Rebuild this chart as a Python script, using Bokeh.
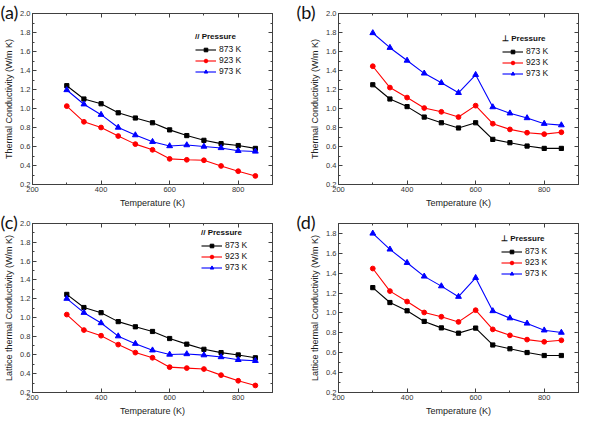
from bokeh.plotting import figure
from bokeh.layouts import gridplot
from bokeh.models import (Range1d, LinearAxis, SingleIntervalTicker, Legend, LegendItem,
                          CustomJSTickFormatter, NumeralTickFormatter)
from bokeh.embed import file_html
from bokeh.resources import INLINE

# ---------------- data ----------------
T = [300, 350, 400, 450, 500, 550, 600, 650, 700, 750, 800, 850]
series_labels = ["873 K", "923 K", "973 K"]

a_873 = [1.24, 1.10, 1.05, 0.955, 0.90, 0.85, 0.775, 0.715, 0.665, 0.63, 0.61, 0.58]
a_923 = [1.025, 0.86, 0.80, 0.71, 0.625, 0.565, 0.47, 0.46, 0.455, 0.395, 0.34, 0.29]
a_973 = [1.195, 1.045, 0.935, 0.80, 0.72, 0.65, 0.605, 0.615, 0.60, 0.585, 0.555, 0.548]

b_873 = [1.25, 1.10, 1.02, 0.91, 0.85, 0.795, 0.85, 0.675, 0.64, 0.605, 0.58, 0.58]
b_923 = [1.445, 1.22, 1.115, 1.005, 0.965, 0.91, 1.03, 0.84, 0.78, 0.745, 0.73, 0.75]
b_973 = [1.795, 1.64, 1.505, 1.37, 1.27, 1.165, 1.355, 1.015, 0.95, 0.90, 0.84, 0.825]

c_873 = [1.245, 1.105, 1.05, 0.955, 0.90, 0.85, 0.775, 0.715, 0.66, 0.625, 0.60, 0.57]
c_923 = [1.03, 0.865, 0.805, 0.71, 0.625, 0.57, 0.47, 0.46, 0.45, 0.385, 0.325, 0.275]
c_973 = [1.20, 1.05, 0.94, 0.80, 0.72, 0.65, 0.605, 0.61, 0.598, 0.578, 0.548, 0.538]

d_873 = [1.255, 1.105, 1.022, 0.915, 0.85, 0.797, 0.848, 0.678, 0.64, 0.602, 0.572, 0.572]
d_923 = [1.447, 1.22, 1.115, 1.005, 0.962, 0.91, 1.028, 0.835, 0.775, 0.732, 0.71, 0.725]
d_973 = [1.80, 1.64, 1.505, 1.368, 1.27, 1.164, 1.354, 1.02, 0.948, 0.895, 0.826, 0.803]

x_label = "Temperature (K)"
y_label_top = "Thermal Conductivity (W/m K)"
y_label_bottom = "Lattice thermal Conductivity (W/m K)"
title_par = "// Pressure"
title_perp = "\u22a5 Pressure"

# ---------------- styling ----------------
FONT = "Liberation Sans"
AX = "#404040"
colors = ["#000000", "#ff0000", "#0000ff"]
markers = ["square", "circle", "triangle"]
msizes = [4.2, 4.8, 5.8]


def style_axis(ax, labels=True):
    ax.axis_line_color = AX
    ax.major_tick_line_color = AX
    ax.minor_tick_line_color = AX
    ax.major_tick_in = 4
    ax.major_tick_out = 0
    ax.minor_tick_in = 2
    ax.minor_tick_out = 0
    ax.major_label_text_font = FONT
    ax.major_label_text_font_size = "7.5px"
    ax.major_label_text_color = "#333333"
    ax.major_label_standoff = 2
    ax.axis_label_text_font = FONT
    ax.axis_label_text_font_size = "9px"
    ax.axis_label_text_font_style = "normal"
    ax.axis_label_text_color = "#222222"
    ax.axis_label_standoff = 3
    if not labels:
        ax.major_label_standoff = 0
        ax.major_label_text_font_size = "0px"


def make_panel(tag, ylabel, ys, ltitle, ymax, width, height, bl, br, bt, bb,
               leg_loc, tag_dx, tag_standoff):
    p = figure(width=width, height=height, output_backend="svg", toolbar_location=None,
               x_range=Range1d(200, 900), y_range=Range1d(0.2, ymax),
               min_border_left=bl, min_border_right=br, min_border_top=bt,
               min_border_bottom=bb, background_fill_color="white",
               border_fill_color="white")
    # panel tag "(a)" etc. as the figure title, left-aligned into the border area
    p.title.text = tag
    p.title.align = "left"
    p.title.offset = tag_dx
    p.title.vertical_align = "middle"
    p.title.standoff = tag_standoff
    p.title.text_font = "Lato"
    p.title.text_font_size = "18px"
    p.title.text_font_style = "normal"
    p.title.text_color = "#111111"

    p.xgrid.visible = False
    p.ygrid.visible = False
    p.outline_line_color = AX
    p.xaxis.ticker = SingleIntervalTicker(interval=200, num_minor_ticks=2)
    p.yaxis.ticker = SingleIntervalTicker(interval=0.2, num_minor_ticks=2)
    p.yaxis.formatter = NumeralTickFormatter(format="0.0")
    p.xaxis.axis_label = x_label
    p.yaxis.axis_label = ylabel
    style_axis(p.xaxis[0])
    style_axis(p.yaxis[0])

    empty = CustomJSTickFormatter(code="return ''")
    top = LinearAxis(ticker=SingleIntervalTicker(interval=200, num_minor_ticks=2),
                     formatter=empty)
    right = LinearAxis(ticker=SingleIntervalTicker(interval=0.2, num_minor_ticks=2),
                       formatter=empty)
    style_axis(top, False)
    style_axis(right, False)
    p.add_layout(top, "above")
    p.add_layout(right, "right")

    items = []
    for i, y in enumerate(ys):
        ln = p.line(T, y, line_color=colors[i], line_width=1.1)
        sc = p.scatter(T, y, marker=markers[i], size=msizes[i],
                       fill_color=colors[i], line_color=colors[i])
        items.append(LegendItem(label=series_labels[i], renderers=[ln, sc]))

    leg = Legend(items=items, location=leg_loc, title=ltitle)
    leg.title_text_font = FONT
    leg.title_text_font_size = "8px"
    leg.title_text_font_style = "bold"
    leg.title_text_color = "#111111"
    leg.title_standoff = 3
    leg.label_text_font = FONT
    leg.label_text_font_size = "8.5px"
    leg.label_text_color = "#111111"
    leg.label_standoff = 3
    leg.label_height = 9
    leg.glyph_height = 9
    leg.glyph_width = 21
    leg.spacing = 1
    leg.padding = 0
    leg.margin = 0
    leg.border_line_color = None
    leg.background_fill_alpha = 0
    p.add_layout(leg, "center")
    return p


pa = make_panel("(a)", y_label_top, [a_873, a_923, a_973], title_par, 2.0,
                288, 210, 32, 16, 13, 26, (163, 108), -32, -21)
pb = make_panel("(b)", y_label_top, [b_873, b_923, b_973], title_perp, 2.0,
                292, 210, 50, 2, 13, 26, (164, 106), -42, -21)
pc = make_panel("(c)", y_label_bottom, [c_873, c_923, c_973], title_par, 2.0,
                288, 208, 32, 16, 13, 23, (169, 120), -32, -21)
pd = make_panel("(d)", y_label_bottom, [d_873, d_923, d_973], title_perp, 1.9,
                292, 208, 50, 2, 13, 23, (163, 114), -42, -21)

grid = gridplot([[pa, pb], [pc, pd]], toolbar_location=None)

open("out.html", "w").write(file_html(grid, INLINE))
